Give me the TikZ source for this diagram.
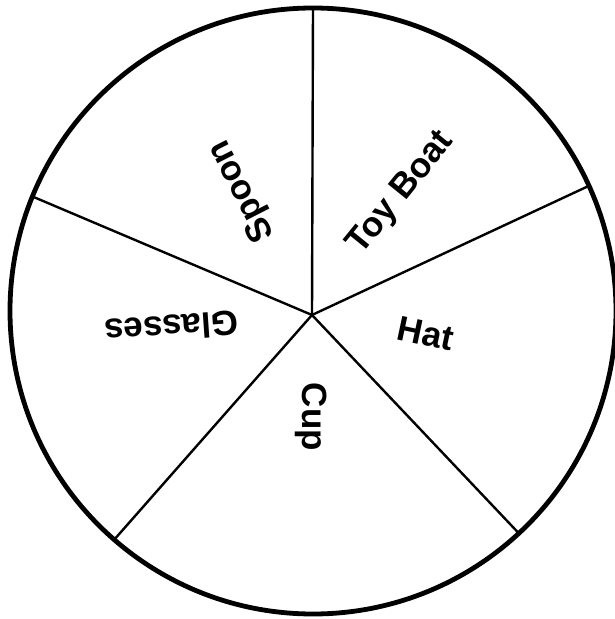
\documentclass[tikz,border=0pt]{standalone}
\usepackage{fontspec}
\setmainfont{Liberation Sans}
\usetikzlibrary{calc}

\begin{document}
\begin{tikzpicture}[x=1pt,y=1pt]
        \tikzstyle{rim}=[line width=4.8pt]
        \tikzstyle{spoke}=[line width=2.4pt]
        \tikzstyle{lbl}=[inner sep=0pt,font=\fontsize{35}{36}\selectfont\bfseries]
        \useasboundingbox (0,0) rectangle (615,619);
        \coordinate (c)   at (313,308);
        \coordinate (hub) at (312,304);
        \draw[rim] (c) circle (303);
        % Spoke ends on the rim
        \coordinate (top)  at ($(c)+(90:303)$);
        \coordinate (rup)  at ($(c)+(24.4:303)$);
        \coordinate (rlow) at ($(c)+(-47.2:303)$);
        \coordinate (llow) at ($(c)+(-131:303)$);
        \coordinate (lup)  at ($(c)+(157.8:303)$);
        \draw[spoke] (hub) -- (top);
        \draw[spoke] (hub) -- (rup);
        \draw[spoke] (hub) -- (rlow);
        \draw[spoke] (hub) -- (llow);
        \draw[spoke] (hub) -- (lup);
        % Sector labels, read outwards
        \node[lbl,rotate=51]  (boat)    at ($(hub)+(53.7:151)$)   {Toy Boat};
        \node[lbl,rotate=-12] (hat)     at ($(hub)+(-9.3:115)$)   {Hat};
        \node[lbl,rotate=-90] (cup)     at ($(hub)+(-90.5:102)$)  {Cup};
        \node[lbl,rotate=184] (glasses) at ($(hub)+(185.3:141)$)  {Glasses};
        \node[lbl,rotate=117] (spoon)   at ($(hub)+(119.2:142.6)$) {Spoon};
      \end{tikzpicture}
\end{document}
